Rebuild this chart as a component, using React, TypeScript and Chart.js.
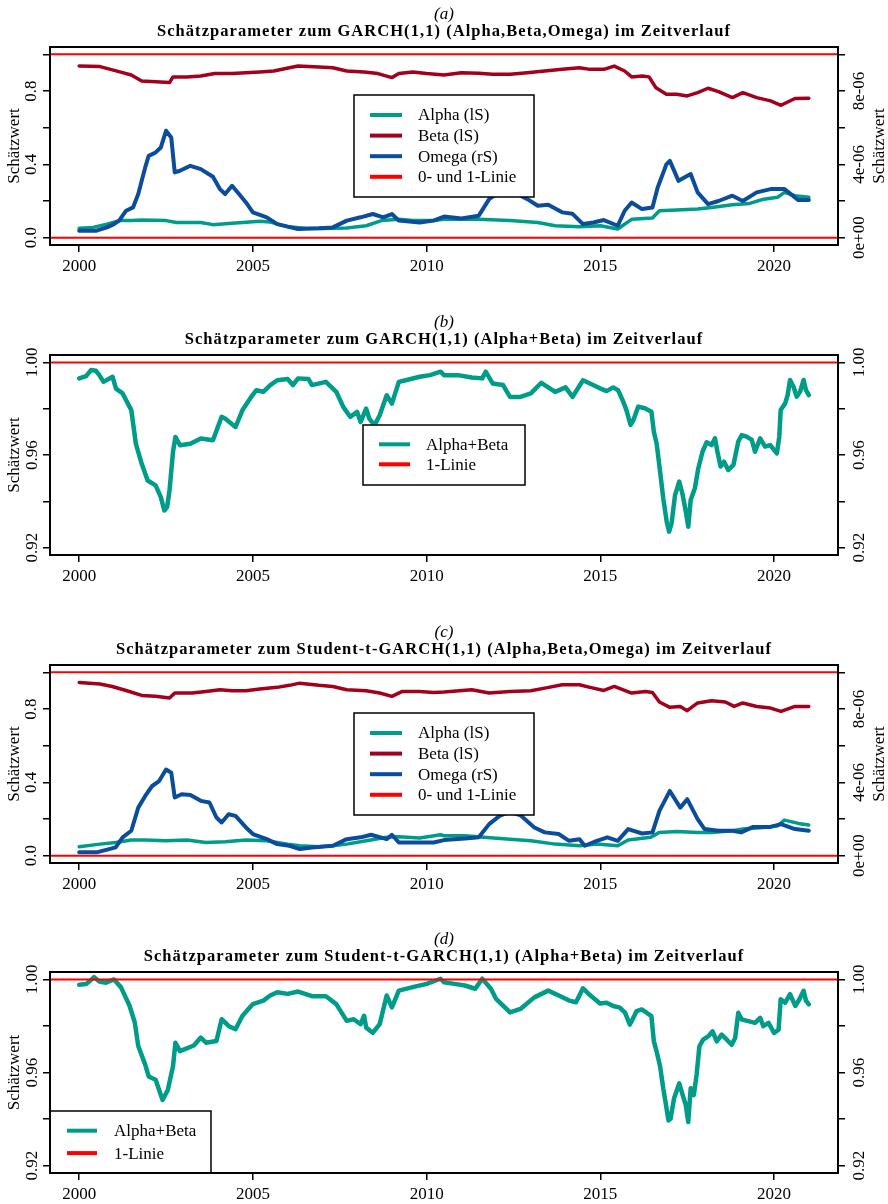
import React, { useEffect, useRef } from "react";
import { Chart, registerables } from "chart.js";

Chart.register(...registerables);

// ---------- axes ----------
const X_MIN = 1999.16;
const X_MAX = 2021.84;
const xTickValues = [2000, 2005, 2010, 2015, 2020];
const xTickLabels = ["2000", "2005", "2010", "2015", "2020"];

const paramTickValues = [0, 0.2, 0.4, 0.6, 0.8, 1.0];
const paramTickLabels = ["0.0", "", "0.4", "", "0.8", ""];
const omegaTickValues = [0, 2, 4, 6, 8, 10]; // unit 1e-6
const omegaTickLabels = ["0e+00", "", "4e-06", "", "8e-06", ""];
const sumTickValues = [0.92, 0.94, 0.96, 0.98, 1.0];
const sumTickLabels = ["0.92", "", "0.96", "", "1.00"];

const PARAM_MIN = -0.04;
const PARAM_MAX = 1.04;
const OMEGA_MIN = -0.4;
const OMEGA_MAX = 10.4;
const SUM_MIN = 0.9168;
const SUM_MAX = 1.0032;

const paramRefLines = [0, 1];
const sumRefLines = [1];

const Y_TITLE = "Schätzwert";

// ---------- texts ----------
const TAG_A = "(a)";
const TAG_B = "(b)";
const TAG_C = "(c)";
const TAG_D = "(d)";
const TITLE_A = "Schätzparameter zum GARCH(1,1) (Alpha,Beta,Omega) im Zeitverlauf";
const TITLE_B = "Schätzparameter zum GARCH(1,1) (Alpha+Beta) im Zeitverlauf";
const TITLE_C = "Schätzparameter zum Student-t-GARCH(1,1) (Alpha,Beta,Omega) im Zeitverlauf";
const TITLE_D = "Schätzparameter zum Student-t-GARCH(1,1) (Alpha+Beta) im Zeitverlauf";

const paramLegendLabels = ["Alpha (lS)", "Beta (lS)", "Omega (rS)", "0- und 1-Linie"];
const sumLegendLabels = ["Alpha+Beta", "1-Linie"];

// ---------- colours ----------
const TEAL = "#009C8A";
const DARKRED = "#A2001D";
const BLUE = "#0B4C9B";
const RED = "#FF0000";

// ---------- data: panel (a) GARCH(1,1) ----------
const alphaA: [number, number][] = [
  [2000.0, 0.051], [2000.4, 0.056], [2000.8, 0.074], [2001.15, 0.093], [2001.5, 0.093], [2001.8, 0.096],
  [2002.5, 0.093], [2002.8, 0.083], [2003.5, 0.083], [2003.85, 0.071], [2004.4, 0.078], [2005.2, 0.089],
  [2005.5, 0.085], [2006.0, 0.06], [2006.5, 0.052], [2007.0, 0.05], [2007.7, 0.053], [2008.26, 0.065],
  [2008.7, 0.093], [2009.2, 0.1], [2009.6, 0.093], [2010.2, 0.093], [2010.5, 0.1], [2011.5, 0.1],
  [2012.4, 0.093], [2013.2, 0.083], [2013.7, 0.065], [2014.4, 0.06], [2015.0, 0.065], [2015.5, 0.047],
  [2015.9, 0.1], [2016.5, 0.107], [2016.7, 0.147], [2017.2, 0.151], [2017.8, 0.156], [2018.2, 0.165],
  [2018.8, 0.18], [2019.3, 0.187], [2019.7, 0.21], [2020.1, 0.22], [2020.3, 0.247], [2020.6, 0.229],
  [2021.0, 0.22],
];
const betaA: [number, number][] = [
  [2000.0, 0.936], [2000.3, 0.935], [2000.6, 0.933], [2000.9, 0.918], [2001.25, 0.9], [2001.5, 0.887],
  [2001.8, 0.855], [2002.2, 0.851], [2002.6, 0.846], [2002.7, 0.877], [2003.1, 0.877], [2003.5, 0.882],
  [2003.9, 0.895], [2004.4, 0.895], [2004.8, 0.9], [2005.2, 0.904], [2005.6, 0.909], [2006.05, 0.927],
  [2006.3, 0.936], [2006.9, 0.931], [2007.3, 0.927], [2007.7, 0.909], [2008.2, 0.904], [2008.6, 0.895],
  [2009.0, 0.873], [2009.2, 0.895], [2009.6, 0.904], [2010.0, 0.895], [2010.5, 0.887], [2011.0, 0.9],
  [2011.5, 0.897], [2011.9, 0.891], [2012.4, 0.891], [2012.9, 0.9], [2013.4, 0.909], [2013.9, 0.918],
  [2014.4, 0.927], [2014.7, 0.918], [2015.1, 0.918], [2015.4, 0.936], [2015.7, 0.909], [2015.9, 0.877],
  [2016.2, 0.882], [2016.4, 0.877], [2016.6, 0.818], [2016.9, 0.782], [2017.2, 0.782], [2017.5, 0.773],
  [2017.8, 0.791], [2018.1, 0.815], [2018.4, 0.797], [2018.8, 0.764], [2019.1, 0.791], [2019.5, 0.764],
  [2019.9, 0.746], [2020.2, 0.722], [2020.6, 0.759], [2021.0, 0.76],
];
// omega in units of 1e-6
const omegaA: [number, number][] = [
  [2000.0, 0.38], [2000.5, 0.38], [2000.8, 0.56], [2001.0, 0.74], [2001.15, 0.93], [2001.35, 1.47],
  [2001.55, 1.65], [2001.7, 2.38], [2001.9, 3.83], [2002.0, 4.46], [2002.2, 4.65], [2002.35, 4.92],
  [2002.5, 5.83], [2002.65, 5.46], [2002.75, 3.56], [2002.9, 3.65], [2003.2, 3.92], [2003.5, 3.74],
  [2003.85, 3.32], [2004.05, 2.65], [2004.2, 2.38], [2004.4, 2.83], [2004.6, 2.38], [2004.8, 1.92],
  [2005.0, 1.38], [2005.4, 1.11], [2005.7, 0.74], [2006.0, 0.6], [2006.3, 0.47], [2006.9, 0.51],
  [2007.3, 0.56], [2007.7, 0.93], [2008.1, 1.11], [2008.45, 1.29], [2008.75, 1.11], [2009.0, 1.29],
  [2009.2, 0.93], [2009.8, 0.83], [2010.2, 0.93], [2010.5, 1.15], [2011.0, 1.05], [2011.5, 1.2],
  [2011.8, 2.1], [2012.0, 2.38], [2012.3, 2.5], [2012.6, 2.4], [2012.9, 2.1], [2013.2, 1.74],
  [2013.5, 1.8], [2013.9, 1.38], [2014.2, 1.3], [2014.5, 0.74], [2014.8, 0.83], [2015.1, 0.96],
  [2015.5, 0.65], [2015.7, 1.47], [2015.9, 1.92], [2016.2, 1.56], [2016.5, 1.65], [2016.65, 2.74],
  [2016.9, 4.0], [2017.0, 4.19], [2017.25, 3.1], [2017.6, 3.47], [2017.8, 2.47], [2018.1, 1.83],
  [2018.4, 2.0], [2018.8, 2.29], [2019.1, 2.0], [2019.5, 2.47], [2019.9, 2.65], [2020.3, 2.65],
  [2020.7, 2.05], [2021.0, 2.05],
];

// ---------- data: panel (b) GARCH(1,1) alpha+beta ----------
const sumB: [number, number][] = [
  [2000.0, 0.9931], [2000.2, 0.9941], [2000.34, 0.9967], [2000.48, 0.9964], [2000.58, 0.9945], [2000.7, 0.9916],
  [2000.96, 0.9938], [2001.06, 0.9887], [2001.25, 0.9866], [2001.5, 0.9794], [2001.63, 0.9649], [2001.8, 0.9562],
  [2001.97, 0.949], [2002.2, 0.9469], [2002.35, 0.9418], [2002.45, 0.936], [2002.53, 0.9375], [2002.6, 0.9447],
  [2002.7, 0.9613], [2002.77, 0.9678], [2002.9, 0.9642], [2003.2, 0.9649], [2003.5, 0.9671], [2003.85, 0.9664],
  [2004.1, 0.9765], [2004.2, 0.9758], [2004.5, 0.9721], [2004.7, 0.9794], [2004.95, 0.9851], [2005.1, 0.988],
  [2005.3, 0.9873], [2005.5, 0.9902], [2005.7, 0.9923], [2006.0, 0.9928], [2006.15, 0.9902], [2006.3, 0.9931],
  [2006.6, 0.9928], [2006.7, 0.9902], [2007.1, 0.9916], [2007.4, 0.9873], [2007.6, 0.9808], [2007.8, 0.9765],
  [2008.0, 0.9786], [2008.1, 0.9743], [2008.26, 0.98], [2008.35, 0.9757], [2008.5, 0.9729], [2008.65, 0.9772],
  [2008.85, 0.9858], [2009.0, 0.9822], [2009.2, 0.9916], [2009.4, 0.9923], [2009.8, 0.9938], [2010.1, 0.9945],
  [2010.4, 0.996], [2010.5, 0.9945], [2010.9, 0.9945], [2011.3, 0.9935], [2011.6, 0.9931], [2011.7, 0.996],
  [2011.9, 0.9909], [2012.2, 0.9902], [2012.4, 0.9851], [2012.7, 0.9851], [2013.0, 0.9866], [2013.3, 0.9912],
  [2013.7, 0.9873], [2014.0, 0.9892], [2014.2, 0.9851], [2014.5, 0.9923], [2014.7, 0.9909], [2014.99, 0.9888],
  [2015.18, 0.9876], [2015.37, 0.9892], [2015.51, 0.988], [2015.66, 0.983], [2015.75, 0.9794], [2015.87, 0.973],
  [2015.95, 0.975], [2016.09, 0.9809], [2016.28, 0.9802], [2016.47, 0.9787], [2016.54, 0.97], [2016.62, 0.965],
  [2016.72, 0.9528], [2016.81, 0.9413], [2016.91, 0.9312], [2016.98, 0.9269], [2017.05, 0.9305], [2017.15, 0.9427],
  [2017.27, 0.9485], [2017.37, 0.9427], [2017.46, 0.9355], [2017.53, 0.929], [2017.6, 0.9406], [2017.72, 0.9456],
  [2017.82, 0.9543], [2017.94, 0.9614], [2018.06, 0.9655], [2018.2, 0.9643], [2018.3, 0.9672], [2018.37, 0.9614],
  [2018.46, 0.955], [2018.56, 0.9571], [2018.68, 0.9535], [2018.83, 0.9557], [2018.97, 0.9658], [2019.07, 0.9686],
  [2019.21, 0.9679], [2019.36, 0.9665], [2019.45, 0.9614], [2019.6, 0.9672], [2019.74, 0.9636], [2019.89, 0.9643],
  [2020.08, 0.9607], [2020.15, 0.9679], [2020.19, 0.9794], [2020.32, 0.9823], [2020.39, 0.9859], [2020.46, 0.9924],
  [2020.56, 0.9895], [2020.65, 0.9852], [2020.75, 0.9874], [2020.85, 0.9924], [2020.92, 0.988], [2021.0, 0.9859],
];

// ---------- data: panel (c) Student-t-GARCH(1,1) ----------
const alphaC: [number, number][] = [
  [2000.0, 0.049], [2000.6, 0.063], [2001.05, 0.072], [2001.5, 0.085], [2001.9, 0.085], [2002.5, 0.081],
  [2003.1, 0.085], [2003.65, 0.072], [2004.2, 0.076], [2004.8, 0.085], [2005.4, 0.081], [2006.0, 0.063],
  [2006.35, 0.054], [2006.9, 0.049], [2007.3, 0.054], [2007.7, 0.063], [2008.26, 0.081], [2008.85, 0.1],
  [2009.2, 0.103], [2009.8, 0.096], [2010.4, 0.114], [2010.5, 0.109], [2011.1, 0.109], [2011.65, 0.1],
  [2012.4, 0.09], [2013.0, 0.081], [2013.7, 0.063], [2014.4, 0.054], [2014.9, 0.063], [2015.5, 0.054],
  [2015.8, 0.085], [2016.45, 0.1], [2016.7, 0.127], [2017.2, 0.132], [2017.8, 0.127], [2018.2, 0.127],
  [2018.8, 0.136], [2019.1, 0.145], [2019.7, 0.154], [2020.1, 0.163], [2020.3, 0.194], [2020.7, 0.176],
  [2021.0, 0.167],
];
const betaC: [number, number][] = [
  [2000.0, 0.945], [2000.6, 0.936], [2000.95, 0.923], [2001.35, 0.901], [2001.8, 0.874], [2002.2, 0.869],
  [2002.6, 0.86], [2002.75, 0.887], [2003.25, 0.887], [2003.65, 0.896], [2004.05, 0.905], [2004.4, 0.9],
  [2004.8, 0.9], [2005.2, 0.909], [2005.7, 0.918], [2006.05, 0.929], [2006.35, 0.941], [2006.9, 0.929],
  [2007.3, 0.923], [2007.7, 0.905], [2008.26, 0.9], [2008.65, 0.887], [2009.0, 0.869], [2009.3, 0.896],
  [2009.8, 0.896], [2010.2, 0.89], [2010.5, 0.893], [2011.3, 0.905], [2011.8, 0.887], [2012.4, 0.896],
  [2013.0, 0.9], [2013.4, 0.914], [2013.9, 0.932], [2014.4, 0.932], [2014.7, 0.918], [2015.1, 0.901],
  [2015.4, 0.923], [2015.9, 0.887], [2016.3, 0.896], [2016.5, 0.89], [2016.7, 0.838], [2017.0, 0.809],
  [2017.3, 0.814], [2017.5, 0.791], [2017.8, 0.833], [2018.2, 0.845], [2018.6, 0.838], [2018.85, 0.814],
  [2019.1, 0.833], [2019.5, 0.814], [2019.9, 0.805], [2020.2, 0.787], [2020.6, 0.814], [2021.0, 0.814],
];
const omegaC: [number, number][] = [
  [2000.0, 0.18], [2000.5, 0.18], [2000.86, 0.36], [2001.05, 0.45], [2001.25, 1.0], [2001.5, 1.36],
  [2001.7, 2.62], [2001.9, 3.26], [2002.1, 3.8], [2002.3, 4.07], [2002.5, 4.7], [2002.65, 4.52],
  [2002.75, 3.17], [2002.95, 3.35], [2003.2, 3.31], [2003.5, 2.99], [2003.75, 2.9], [2003.95, 2.08],
  [2004.1, 1.81], [2004.3, 2.26], [2004.5, 2.17], [2004.8, 1.54], [2005.0, 1.18], [2005.4, 0.9],
  [2005.7, 0.63], [2006.05, 0.54], [2006.35, 0.36], [2006.7, 0.45], [2007.3, 0.54], [2007.7, 0.9],
  [2008.1, 1.0], [2008.4, 1.14], [2008.85, 0.9], [2009.0, 1.14], [2009.2, 0.72], [2009.6, 0.72],
  [2010.2, 0.72], [2010.5, 0.85], [2011.1, 0.94], [2011.5, 1.0], [2011.8, 1.72], [2012.1, 2.17],
  [2012.4, 2.4], [2012.7, 2.2], [2013.1, 1.54], [2013.4, 1.27], [2013.8, 1.18], [2014.1, 0.81],
  [2014.4, 0.9], [2014.55, 0.54], [2014.9, 0.81], [2015.2, 1.0], [2015.5, 0.81], [2015.8, 1.45],
  [2016.2, 1.21], [2016.5, 1.27], [2016.7, 2.44], [2017.0, 3.53], [2017.3, 2.62], [2017.5, 3.08],
  [2017.8, 1.99], [2018.0, 1.45], [2018.4, 1.36], [2018.8, 1.36], [2019.05, 1.27], [2019.4, 1.57],
  [2019.9, 1.57], [2020.2, 1.72], [2020.6, 1.45], [2021.0, 1.36],
];

// ---------- data: panel (d) Student-t-GARCH(1,1) alpha+beta ----------
const sumD: [number, number][] = [
  [2000.0, 0.9977], [2000.2, 0.998], [2000.43, 1.001], [2000.58, 0.9991], [2000.77, 0.9986], [2001.0, 1.0],
  [2001.2, 0.9967], [2001.45, 0.9887], [2001.6, 0.9815], [2001.7, 0.9714], [2001.9, 0.9634], [2002.0, 0.9583],
  [2002.2, 0.9569], [2002.4, 0.9482], [2002.55, 0.9525], [2002.7, 0.9627], [2002.77, 0.9728], [2002.9, 0.9692],
  [2003.3, 0.9716], [2003.5, 0.975], [2003.65, 0.9728], [2003.95, 0.9735], [2004.1, 0.9829], [2004.3, 0.98],
  [2004.5, 0.9786], [2004.7, 0.9844], [2005.0, 0.9894], [2005.3, 0.9909], [2005.5, 0.9931], [2005.7, 0.9945],
  [2006.0, 0.9938], [2006.3, 0.9948], [2006.7, 0.9928], [2007.1, 0.9928], [2007.4, 0.9894], [2007.7, 0.9822],
  [2007.9, 0.9829], [2008.1, 0.9808], [2008.2, 0.9844], [2008.26, 0.9793], [2008.45, 0.9771], [2008.65, 0.9808],
  [2008.85, 0.9931], [2009.0, 0.988], [2009.2, 0.9952], [2009.6, 0.9967], [2010.0, 0.9981], [2010.4, 1.0003],
  [2010.5, 0.9988], [2010.8, 0.9981], [2011.1, 0.9974], [2011.4, 0.996], [2011.6, 1.0003], [2011.85, 0.996],
  [2012.0, 0.9916], [2012.4, 0.9858], [2012.7, 0.9873], [2013.1, 0.9923], [2013.5, 0.9952], [2013.85, 0.9928],
  [2014.1, 0.9909], [2014.3, 0.9902], [2014.5, 0.9962], [2014.7, 0.9933], [2014.99, 0.9897], [2015.18, 0.99],
  [2015.37, 0.9886], [2015.56, 0.9879], [2015.71, 0.9857], [2015.85, 0.9806], [2015.95, 0.9835], [2016.04, 0.9864],
  [2016.19, 0.9871], [2016.33, 0.9857], [2016.47, 0.9842], [2016.54, 0.9734], [2016.62, 0.969], [2016.72, 0.9626],
  [2016.81, 0.9532], [2016.89, 0.946], [2016.96, 0.9394], [2017.02, 0.9401], [2017.12, 0.9488], [2017.27, 0.9553],
  [2017.37, 0.9503], [2017.46, 0.946], [2017.53, 0.9387], [2017.6, 0.9532], [2017.69, 0.9503], [2017.77, 0.959],
  [2017.85, 0.9712], [2017.96, 0.9741], [2018.11, 0.9756], [2018.23, 0.9777], [2018.35, 0.9734], [2018.49, 0.9763],
  [2018.64, 0.9741], [2018.78, 0.9719], [2018.88, 0.9748], [2018.97, 0.9857], [2019.07, 0.9828], [2019.26, 0.9821],
  [2019.45, 0.9813], [2019.6, 0.9835], [2019.69, 0.9799], [2019.84, 0.9813], [2020.0, 0.977], [2020.13, 0.9784],
  [2020.19, 0.9915], [2020.32, 0.99], [2020.46, 0.9937], [2020.61, 0.9886], [2020.73, 0.9915], [2020.85, 0.9951],
  [2020.92, 0.9908], [2021.0, 0.9893],
];

// ---------- panel specs ----------
type Series = { label: string; points: [number, number][]; color: string; axis: string; width: number; order: number };
type LegendBox = { x: number; y: number; w: number; h: number; row0: number; step: number; l0: number; l1: number; tx: number };
type Panel = {
  tag: string; title: string; series: Series[]; refs: number[]; refLabel: string;
  kind: "param" | "sum"; legendLabels: string[]; legendColors: string[]; legend: LegendBox;
  top: number; height: number; areaTop: number; areaBottom: number;
};

const FONT = "Liberation Serif";

const panels: Panel[] = [
  {
    tag: TAG_A, title: TITLE_A, kind: "param",
    series: [
      { label: "Alpha (lS)", points: alphaA, color: TEAL, axis: "y", width: 3.5, order: 2 },
      { label: "Beta (lS)", points: betaA, color: DARKRED, axis: "y", width: 3.5, order: 1 },
      { label: "Omega (rS)", points: omegaA, color: BLUE, axis: "y2", width: 4, order: 0 },
    ],
    refs: paramRefLines, refLabel: "0- und 1-Linie",
    legendLabels: paramLegendLabels, legendColors: [TEAL, DARKRED, BLUE, RED],
    legend: { x: 354, y: 95, w: 180, h: 102, row0: 115, step: 20.6, l0: 370, l1: 402, tx: 418 },
    top: 0, height: 308, areaTop: 47, areaBottom: 245,
  },
  {
    tag: TAG_B, title: TITLE_B, kind: "sum",
    series: [{ label: "Alpha+Beta", points: sumB, color: TEAL, axis: "y", width: 4.5, order: 0 }],
    refs: sumRefLines, refLabel: "1-Linie",
    legendLabels: sumLegendLabels, legendColors: [TEAL, RED],
    legend: { x: 363, y: 117, w: 162, h: 60, row0: 136.3, step: 20, l0: 379, l1: 410, tx: 426 },
    top: 308, height: 310, areaTop: 47, areaBottom: 247,
  },
  {
    tag: TAG_C, title: TITLE_C, kind: "param",
    series: [
      { label: "Alpha (lS)", points: alphaC, color: TEAL, axis: "y", width: 3.5, order: 2 },
      { label: "Beta (lS)", points: betaC, color: DARKRED, axis: "y", width: 3.5, order: 1 },
      { label: "Omega (rS)", points: omegaC, color: BLUE, axis: "y2", width: 4, order: 0 },
    ],
    refs: paramRefLines, refLabel: "0- und 1-Linie",
    legendLabels: paramLegendLabels, legendColors: [TEAL, DARKRED, BLUE, RED],
    legend: { x: 354, y: 95, w: 180, h: 102, row0: 115, step: 20.6, l0: 370, l1: 402, tx: 418 },
    top: 618, height: 308, areaTop: 47, areaBottom: 245,
  },
  {
    tag: TAG_D, title: TITLE_D, kind: "sum",
    series: [{ label: "Alpha+Beta", points: sumD, color: TEAL, axis: "y", width: 4.5, order: 0 }],
    refs: sumRefLines, refLabel: "1-Linie",
    legendLabels: sumLegendLabels, legendColors: [TEAL, RED],
    legend: { x: 50, y: 185, w: 161, h: 62, row0: 204.7, step: 22.4, l0: 67, l1: 97, tx: 114 },
    top: 926, height: 278, areaTop: 46, areaBottom: 247,
  },
];

const CANVAS_W = 888;
const LEFT_W = 50;
const RIGHT_W = 50;

function decorPlugin(p: Panel) {
  return {
    id: "rDecor",
    afterDraw(chart: any) {
      const { ctx, chartArea: a } = chart;
      ctx.save();
      // legend
      const L = p.legend;
      ctx.fillStyle = "#fff";
      ctx.fillRect(L.x, L.y, L.w, L.h);
      ctx.strokeStyle = "#000";
      ctx.lineWidth = 1.5;
      ctx.strokeRect(L.x, L.y, L.w, L.h);
      p.legendLabels.forEach((lab, i) => {
        const y = L.row0 + i * L.step;
        ctx.strokeStyle = p.legendColors[i];
        ctx.lineWidth = 4;
        ctx.lineCap = "butt";
        ctx.beginPath();
        ctx.moveTo(L.l0, y);
        ctx.lineTo(L.l1, y);
        ctx.stroke();
        ctx.fillStyle = "#000";
        ctx.font = `17px "${FONT}"`;
        ctx.textAlign = "left";
        ctx.textBaseline = "middle";
        ctx.fillText(lab, L.tx, y + 1);
      });
      // plot box
      ctx.strokeStyle = "#000";
      ctx.lineWidth = 2;
      ctx.strokeRect(a.left, a.top, a.right - a.left, a.bottom - a.top);
      // titles
      const cx = (a.left + a.right) / 2;
      ctx.fillStyle = "#000";
      ctx.textAlign = "center";
      ctx.textBaseline = "middle";
      ctx.font = `italic 17px "${FONT}"`;
      ctx.fillText(p.tag, cx, a.top - 32);
      ctx.font = `bold 16.5px "${FONT}"`;
      (ctx as any).letterSpacing = "1.05px";
      ctx.fillText(p.title, cx, a.top - 15);
      (ctx as any).letterSpacing = "0px";
      // axis titles
      ctx.font = `17px "${FONT}"`;
      const cy = (a.top + a.bottom) / 2;
      ctx.save();
      ctx.translate(15, cy);
      ctx.rotate(-Math.PI / 2);
      ctx.fillText(Y_TITLE, 0, 0);
      ctx.restore();
      if (p.kind === "param") {
        ctx.save();
        ctx.translate(880, cy);
        ctx.rotate(-Math.PI / 2);
        ctx.fillText(Y_TITLE, 0, 0);
        ctx.restore();
      }
      ctx.restore();
    },
  };
}

function yScale(position: "left" | "right", min: number, max: number, values: number[], labels: string[], pad: number, width: number) {
  return {
    type: "linear",
    position,
    min,
    max,
    afterBuildTicks: (s: any) => {
      s.ticks = values.map((v) => ({ value: v }));
    },
    afterFit: (s: any) => {
      s.width = width;
    },
    ticks: {
      callback: (_v: any, i: number) => labels[i],
      font: { family: FONT, size: 17 },
      color: "#000",
      minRotation: 90,
      maxRotation: 90,
      crossAlign: "center",
      padding: pad,
      autoSkip: false,
    },
    grid: { drawOnChartArea: false, drawTicks: true, tickLength: 7, color: "#000", lineWidth: 1.5 },
    border: { display: false },
  };
}

function makeConfig(p: Panel): any {
  const datasets: any[] = p.series.map((s) => ({
    label: s.label,
    data: s.points.map(([x, y]) => ({ x, y })),
    borderColor: s.color,
    backgroundColor: s.color,
    borderWidth: s.width,
    pointRadius: 0,
    yAxisID: s.axis,
    order: s.order,
    fill: false,
    tension: 0,
    borderJoinStyle: "round",
    borderCapStyle: "round",
  }));
  p.refs.forEach((v) => {
    datasets.push({
      label: p.refLabel,
      data: [{ x: X_MIN, y: v }, { x: X_MAX, y: v }],
      borderColor: RED,
      backgroundColor: RED,
      borderWidth: 2,
      pointRadius: 0,
      yAxisID: "y",
      order: -1,
      fill: false,
    });
  });

  const isParam = p.kind === "param";
  const yMin = isParam ? PARAM_MIN : SUM_MIN;
  const yMax = isParam ? PARAM_MAX : SUM_MAX;
  const yVals = isParam ? paramTickValues : sumTickValues;
  const yLabs = isParam ? paramTickLabels : sumTickLabels;
  const xHeight = p.height - p.areaBottom;

  return {
    type: "line",
    data: { datasets },
    options: {
      responsive: false,
      animation: false,
      devicePixelRatio: 1,
      events: [],
      layout: { padding: { top: p.areaTop, left: 0, right: 0, bottom: 0 } },
      plugins: { legend: { display: false }, tooltip: { enabled: false }, title: { display: false } },
      scales: {
        x: {
          type: "linear",
          min: X_MIN,
          max: X_MAX,
          afterBuildTicks: (s: any) => {
            s.ticks = xTickValues.map((v) => ({ value: v }));
          },
          afterFit: (s: any) => {
            s.height = xHeight;
          },
          ticks: {
            callback: (_v: any, i: number) => xTickLabels[i],
            font: { family: FONT, size: 17 },
            color: "#000",
            padding: 4,
            maxRotation: 0,
            autoSkip: false,
          },
          grid: { drawOnChartArea: false, drawTicks: true, tickLength: 7, color: "#000", lineWidth: 1.5 },
          border: { display: false },
        },
        y: yScale("left", yMin, yMax, yVals, yLabs, isParam ? 0.4 : -4, LEFT_W),
        y2: isParam
          ? yScale("right", OMEGA_MIN, OMEGA_MAX, omegaTickValues, omegaTickLabels, -6.3, RIGHT_W)
          : yScale("right", yMin, yMax, yVals, yLabs, 0, RIGHT_W),
      },
    },
    plugins: [decorPlugin(p)],
  };
}

function PanelChart({ p }: { p: Panel }) {
  const ref = useRef<HTMLCanvasElement | null>(null);
  useEffect(() => {
    if (!ref.current) return;
    const chart = new Chart(ref.current, makeConfig(p));
    return () => chart.destroy();
  }, [p]);
  return (
    <canvas
      ref={ref}
      width={CANVAS_W}
      height={p.height}
      style={{ position: "absolute", left: 0, top: p.top, width: CANVAS_W, height: p.height }}
    />
  );
}

export default function App() {
  return (
    <div style={{ position: "absolute", left: 0, top: 0, width: 888, height: 1204, background: "#fff", overflow: "hidden" }}>
      {panels.map((p) => (
        <PanelChart key={p.tag} p={p} />
      ))}
    </div>
  );
}
